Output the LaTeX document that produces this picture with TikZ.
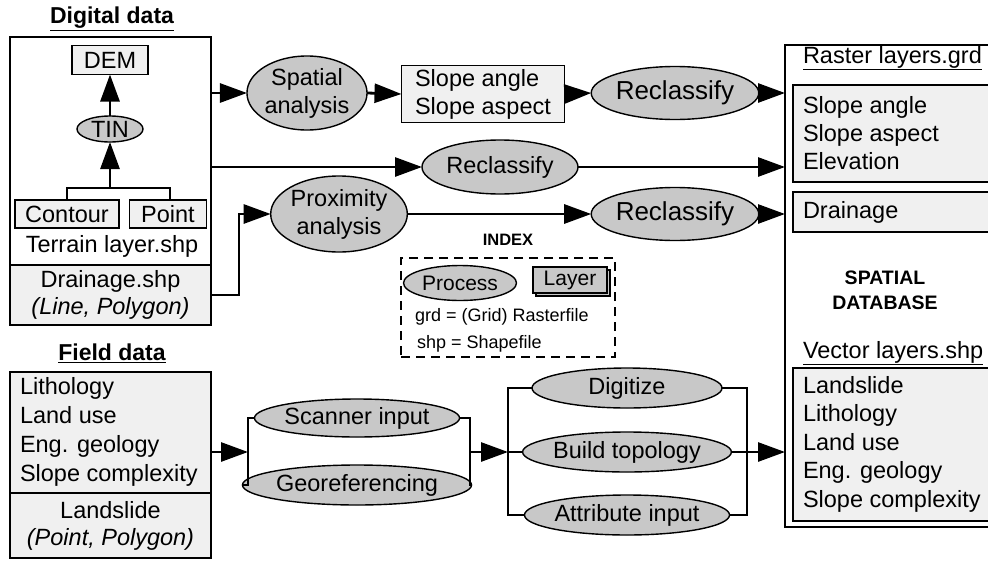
\documentclass[tikz,border=0pt]{standalone}
\usepackage{fontspec}
\setmainfont{Liberation Sans}
\usetikzlibrary{arrows.meta,shapes.geometric}
\definecolor{boxfill}{RGB}{240,240,240}
\definecolor{procfill}{RGB}{200,200,200}
\tikzset{
  every node/.style={inner sep=0pt, outer sep=0pt},
  txt/.style={font=\fontsize{23.5}{28}\selectfont},
  bigtxt/.style={font=\fontsize{26}{30}\selectfont},
  smalltxt/.style={font=\fontsize{18}{22}\selectfont},
  frame/.style={draw, line width=1.4pt},
  box/.style={frame, fill=boxfill, txt},
  proc/.style={ellipse, frame, fill=procfill, txt, align=center},
  conn/.style={line width=2.8pt},
  arr/.style={conn, -{Triangle[length=27pt,width=19pt]}},
  heading/.style={font=\fontsize{23}{28}\selectfont\bfseries},
}
\begin{document}
\begin{tikzpicture}[x=1pt,y=-1pt]
\useasboundingbox (0,0) rectangle (988,560);

% ---------- Digital data ----------
\node[heading] (digtitle) at (112,19) {\underline{Digital data}};
\node[frame, anchor=north west, minimum width=201, minimum height=288] (digbox) at (10,37) {};
\node[box, anchor=north west, minimum width=201, minimum height=60, align=center,
      font=\fontsize{23.5}{27}\selectfont] (drainsec) at (10,265)
      {Drainage.shp\\\textit{(Line, Polygon)}};
\node[box, minimum width=76, minimum height=29] (dem) at (110,60) {DEM};
\node[proc, minimum width=66, minimum height=26] (tin) at (110,129) {TIN};
\node[box, minimum width=104, minimum height=28] (contour) at (67,214) {Contour};
\node[box, minimum width=77, minimum height=28] (point) at (168,214) {Point};
\node[txt] (terrain) at (112,246) {Terrain layer.shp};
\coordinate (tjoin) at (110,188);
\draw[conn, line width=2.2pt] (contour.north) -- ++(0,-12) -| ([xshift=2pt]point.north);
\draw[arr] (tjoin) -- (tin.south);
\draw[arr] (tin.north) -- (dem.south);

% ---------- Spatial database ----------
\node[frame, fill=white, anchor=north west, minimum width=215, minimum height=482] (dbbox) at (785,45) {};
\node[txt, anchor=west] (rasttitle) at (803,58) {\underline{Raster layers.grd}};
\node[box, anchor=north west, minimum width=207, minimum height=97] (rastbox) at (793,85) {};
\node[txt, anchor=west, align=left] (rasttxt) at (803,133) {Slope angle\\Slope aspect\\Elevation};
\node[box, anchor=north west, minimum width=207, minimum height=40] (draingrd) at (793,192) {};
\node[txt, anchor=west] (draintxt) at (803,212) {Drainage};
\node[font=\fontsize{19.5}{25}\selectfont\bfseries, align=center] (dbname) at (885,290) {SPATIAL\\DATABASE};
\node[txt, anchor=west] (vectitle) at (803,353) {\underline{Vector layers.shp}};
\node[box, anchor=north west, minimum width=207, minimum height=153] (vecbox) at (793,368) {};
\node[anchor=west, align=left, font=\fontsize{23.5}{28.5}\selectfont] (vectxt) at (803,444)
      {Landslide\\Lithology\\Land use\\Eng. geology\\Slope complexity};

% ---------- Processing of digital data ----------
\node[proc, minimum width=118, minimum height=74] (spatial) at (307,93) {Spatial\\analysis};
\node[box, minimum width=163, minimum height=57, align=left] (slope) at (483,94) {Slope angle\\Slope aspect};
\node[proc, bigtxt, minimum width=145, minimum height=53] (recl1) at (675,93) {Reclassify};
\node[proc, minimum width=156, minimum height=54] (recl2) at (500,167) {Reclassify};
\node[proc, minimum width=135, minimum height=76] (prox) at (339,214) {Proximity\\analysis};
\node[proc, bigtxt, minimum width=145, minimum height=53] (recl3) at (675,214) {Reclassify};

\draw[arr] (spatial.west -| digbox.east) -- (spatial.west);
\draw[arr] (spatial.east) -- (slope.west);
\draw[arr] (slope.east) -- (recl1.west);
\draw[arr] (recl1.east) -- (recl1.east -| dbbox.west);
\draw[arr] (recl2.west -| digbox.east) -- (recl2.west);
\draw[arr] (recl2.east) -- (recl2.east -| dbbox.west);
\draw[arr] (drainsec.east) -- ++(28,0) |- (prox.west);
\draw[arr] (prox.east) -- (recl3.west);
\draw[arr] (recl3.east) -- (recl3.east -| dbbox.west);

% ---------- Index ----------
\node[font=\fontsize{16.5}{20}\selectfont\bfseries] (idxtitle) at (508,240) {INDEX};
\node[draw, line width=1.3pt, dash pattern=on 9pt off 6pt, anchor=north west,
      minimum width=214, minimum height=99] (idxbox) at (401,258) {};
\node[proc, font=\fontsize{21}{25}\selectfont, minimum width=113, minimum height=35] (idxproc) at (460,283) {Process};
% layer symbol: offset copy behind gives the shadowed edge at right and bottom
\node[frame, fill=procfill, minimum width=74, minimum height=26] (idxshadow) at (573,283) {};
\node[frame, fill=procfill, font=\fontsize{21}{25}\selectfont, minimum width=74, minimum height=26] (idxlayer) at (570,280) {Layer};
\node[smalltxt, anchor=west] (idxgrd) at (415,317) {grd = (Grid) Rasterfile};
\node[smalltxt, anchor=west] (idxshp) at (417,344) {shp = Shapefile};

% ---------- Field data ----------
\node[heading] (fieldtitle) at (112,353) {\underline{Field data}};
\node[box, anchor=north west, minimum width=201, minimum height=121] (fieldtop) at (10,372) {};
\node[anchor=west, align=left, font=\fontsize{23.5}{29}\selectfont] (fieldtxt) at (20,432)
      {Lithology\\Land use\\Eng. geology\\Slope complexity};
\node[box, anchor=north west, minimum width=201, minimum height=65, align=center,
      font=\fontsize{23.5}{27}\selectfont] (fieldbot) at (10,493)
      {Landslide\\\textit{(Point, Polygon)}};

\node[proc, minimum width=195, minimum height=38] (scan) at (357,418) {Scanner input};
\node[proc, minimum width=195, minimum height=40] (geo) at (357,485) {Georeferencing};
\node[proc, minimum width=190, minimum height=40] (digit) at (627,388) {Digitize};
\node[proc, minimum width=190, minimum height=40] (build) at (627,452) {Build topology};
\node[proc, minimum width=190, minimum height=40] (attr) at (627,515) {Attribute input};

\coordinate (fj1) at (248,452);
\coordinate (fj2) at (470,452);
\coordinate (fj3) at (508,452);
\coordinate (fj4) at (747,452);

\draw[arr] (fj1 -| fieldtop.east) -- (fj1);
\draw[conn] (scan.west) -| (fj1) |- (geo.west);
\draw[conn] (scan.east) -| (fj2) |- (geo.east);
\draw[arr] (fj2) -- (fj3);
\draw[conn] (digit.west) -| (fj3) |- (attr.west);
\draw[conn] (fj3) -- (build.west);
\draw[conn] (digit.east) -| (fj4) |- (attr.east);
\draw[arr] (build.east) -- (build.east -| dbbox.west);
\end{tikzpicture}
\end{document}
